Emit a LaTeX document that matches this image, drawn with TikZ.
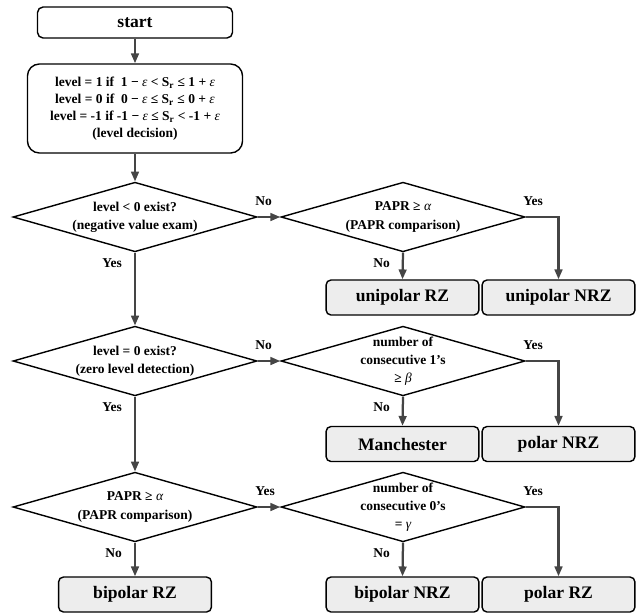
\documentclass[tikz,border=0pt]{standalone}
\usepackage{fontspec}
\setmainfont{Liberation Serif}
\usetikzlibrary{arrows.meta}
\usetikzlibrary{shapes.geometric}
\definecolor{mgray}{rgb}{0.27, 0.27, 0.27}
\definecolor{mfill}{rgb}{0.93, 0.93, 0.93}
\newcommand{\grk}[1]{{\mdseries\itshape #1}}

\begin{document}
\begin{tikzpicture}[x=0.025cm, y=-0.025cm,
    startbox/.style={draw, line width=1pt, fill=white, rounded corners=4pt,
      minimum width=4.875cm, minimum height=0.775cm,
      font=\bfseries\fontsize{12.5}{15}\selectfont},
    levelbox/.style={draw, line width=1pt, fill=white, rounded corners=8.5pt,
      minimum width=5.375cm, minimum height=2.225cm, align=center,
      font=\bfseries\fontsize{9.6}{12.1}\selectfont},
    decision/.style={diamond, draw, line width=1pt, fill=white,
      minimum width=6.1cm, minimum height=1.74cm, inner sep=0pt},
    dtext/.style={align=center, font=\bfseries\fontsize{9.6}{13}\selectfont},
    result/.style={draw, line width=1pt, fill=mfill, rounded corners=3.5pt,
      minimum width=3.82cm, minimum height=0.875cm,
      font=\bfseries\fontsize{12.5}{15}\selectfont},
    arr/.style={draw=mgray, line width=1.6pt, -{Triangle[length=7pt, width=5.5pt]}},
    lbl/.style={font=\bfseries\fontsize{9.6}{11}\selectfont, inner sep=1pt, text=black},
    hlbl/.style={lbl, pos=0, anchor=south west, xshift=-3.5pt, yshift=6pt},
    vlbl/.style={lbl, pos=0, anchor=north east, xshift=-7.5pt, yshift=-2.5pt}]

      \useasboundingbox (0, 0) rectangle (636, 614);

      \node [startbox] (start) at (135, 22.5) {start};
      \node [levelbox] (level) at (135, 108.5) {level = 1 if\ \ 1 − \grk{ε} < S\textsubscript{r} ≤ 1 + \grk{ε}\\
        level = 0 if\ \ 0 − \grk{ε} ≤ S\textsubscript{r} ≤ 0 + \grk{ε}\\
        level = -1 if -1 − \grk{ε} ≤ S\textsubscript{r} < -1 + \grk{ε}\\
        (level decision)};

      \node [decision, label={[dtext]center:{level < 0 exist?\\(negative value exam)}}] (neg) at (135, 217) {};
      \node [decision, label={[dtext]center:{PAPR ≥ \grk{α}\\(PAPR comparison)}}] (paprone) at (403, 217) {};
      \node [result] (urz) at (402.5, 297.5) {unipolar RZ};
      \node [result] (unrz) at (558.5, 297.5) {unipolar NRZ};

      \node [decision, label={[dtext]center:{level = 0 exist?\\(zero level detection)}}] (zero) at (135, 361) {};
      \node [decision, label={[dtext]center:{number of\\consecutive 1’s\\≥ \grk{β}}}] (ones) at (403, 361) {};
      \node [result] (manch) at (402.5, 444) {Manchester};
      \node [result] (pnrz) at (558.5, 444) {polar NRZ};

      \node [decision, label={[dtext]center:{PAPR ≥ \grk{α}\\(PAPR comparison)}}] (paprtwo) at (135, 507) {};
      \node [decision, label={[dtext]center:{number of\\consecutive 0’s\\= \grk{γ}}}] (zeros) at (403, 507) {};
      \node [result] (brz) at (135, 594.5) {bipolar RZ};
      \node [result] (bnrz) at (402.5, 594.5) {bipolar NRZ};
      \node [result] (prz) at (558.5, 594.5) {polar RZ};

      \draw [arr] (start) -- (level);
      \draw [arr] (level) -- (neg);

      \draw [arr] (neg.east) -- (paprone.west) node [hlbl] {No};
      \draw [arr] (paprone.east) -| (unrz.north) node [hlbl] {Yes};
      \draw [arr] (paprone.south) -- (urz.north) node [vlbl] {No};
      \draw [arr] (neg.south) -- (zero.north) node [vlbl] {Yes};

      \draw [arr] (zero.east) -- (ones.west) node [hlbl] {No};
      \draw [arr] (ones.east) -| (pnrz.north) node [hlbl] {Yes};
      \draw [arr] (ones.south) -- (manch.north) node [vlbl] {No};
      \draw [arr] (zero.south) -- (paprtwo.north) node [vlbl] {Yes};

      \draw [arr] (paprtwo.east) -- (zeros.west) node [hlbl] {Yes};
      \draw [arr] (zeros.east) -| (prz.north) node [hlbl] {Yes};
      \draw [arr] (zeros.south) -- (bnrz.north) node [vlbl] {No};
      \draw [arr] (paprtwo.south) -- (brz.north) node [vlbl] {No};
    \end{tikzpicture}
\end{document}
